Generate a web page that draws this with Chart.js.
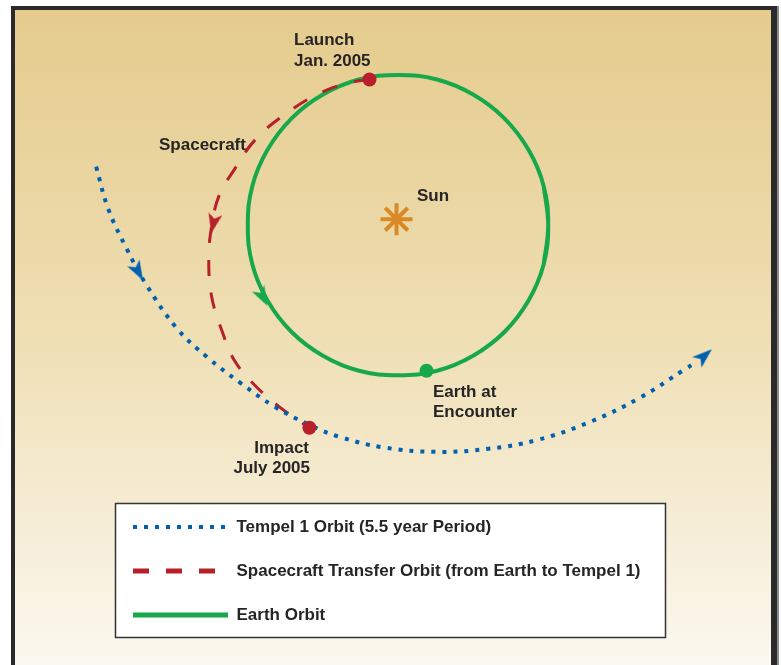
<!DOCTYPE html>
<html>
<head>
<meta charset="utf-8">
<script src="https://cdn.jsdelivr.net/npm/chart.js@4.4.0/dist/chart.umd.min.js"></script>
<style>
    body { margin: 0; background: #fff; }
    canvas { display: block; }
</style>
</head>
<body>
<canvas id="graficoOrbitas" width="781" height="665"></canvas>
<script>
// posições em UA, centradas na órbita da Terra (raio 1)
// a órbita da Terra passa um pouco do ponto inicial para fechar sem quina
const orbitaTerra = [[0.97, -0.26], [1, 0], [0.97, 0.26], [0.87, 0.5], [0.71, 0.71], [0.5, 0.87], [0.26, 0.97], [0, 1],
    [-0.26, 0.97], [-0.5, 0.87], [-0.71, 0.71], [-0.87, 0.5], [-0.97, 0.26], [-1, 0], [-0.97, -0.26],
    [-0.87, -0.5], [-0.71, -0.71], [-0.5, -0.87], [-0.26, -0.97], [0, -1], [0.26, -0.97], [0.5, -0.87],
    [0.71, -0.71], [0.87, -0.5], [0.97, -0.26], [1, 0], [0.97, 0.26]];
const orbitaTempel = [[-2.01, 0.39], [-1.93, 0.11], [-1.81, -0.15], [-1.68, -0.39], [-1.47, -0.69],
    [-1.27, -0.88], [-1.05, -1.05], [-0.82, -1.21], [-0.59, -1.33], [-0.39, -1.41], [-0.1, -1.48],
    [0.25, -1.51], [0.6, -1.49], [0.93, -1.43], [1.28, -1.31], [1.61, -1.15], [1.91, -0.96], [1.99, -0.91]];
const orbitaNave = [[-0.19, 0.97], [-0.32, 0.95], [-0.52, 0.88], [-0.75, 0.74], [-0.95, 0.57], [-1.09, 0.37],
    [-1.19, 0.2], [-1.24, 0], [-1.26, -0.23], [-1.24, -0.48], [-1.17, -0.71], [-1.09, -0.9], [-0.95, -1.07],
    [-0.79, -1.21], [-0.62, -1.33], [-0.59, -1.35]];
const eventosNave = [[-0.19, 0.97], [-0.59, -1.35]];   // lançamento, impacto
const terraEncontro = [[0.19, -0.97]];
const sol = [[-0.01, 0.04]];
const setas = [[-1.73, -0.31], [-1.23, 0.01], [-0.9, -0.48], [2.04, -0.87]];
const rotacaoSetas = [151, 192, 152, 49];
const nomesSeries = ["Tempel 1 Orbit (5.5 year Period)", "Spacecraft Transfer Orbit (from Earth to Tempel 1)", "Earth Orbit"];

const AZUL = "#0061b0";
const VERMELHO = "#b7202b";
const VERDE = "#17a84b";
const LARANJA = "#d98a24";
const TEXTO = "#262425";

function pontos(lista) {
    return lista.map(p => ({ x: p[0], y: p[1] }));
}

function criarSeta(cor) {
    const c = document.createElement("canvas");
    c.width = 14;
    c.height = 20;
    const g = c.getContext("2d");
    g.fillStyle = cor;
    g.beginPath();
    g.moveTo(7, 0);
    g.lineTo(14, 20);
    g.lineTo(7, 15);
    g.lineTo(0, 20);
    g.closePath();
    g.fill();
    return c;
}

const larguraLegenda = [4, 5, 5];

const rotulos = [
    ["Launch", 294, 45, "left"],
    ["Jan. 2005", 294, 66, "left"],
    ["Spacecraft", 159, 150, "left"],
    ["Sun", 417, 201, "left"],
    ["Earth at", 433, 397, "left"],
    ["Encounter", 433, 417, "left"],
    ["Impact", 309, 453, "right"],
    ["July 2005", 310, 473, "right"]
];

const fundo = {
    id: "fundo",
    beforeDraw(chart) {
        const ctx = chart.ctx;
        ctx.save();
        ctx.fillStyle = "#ffffff";
        ctx.fillRect(0, 0, 781, 665);
        ctx.fillStyle = "#8c8c8c";
        ctx.fillRect(11, 6, 768, 665);
        ctx.fillStyle = "#2a2a2a";
        ctx.fillRect(11, 6, 766, 665);
        const grad = ctx.createLinearGradient(0, 10, 0, 665);
        grad.addColorStop(0, "#e5cb8d");
        grad.addColorStop(0.5, "#efdfb4");
        grad.addColorStop(1, "#fbf8f0");
        ctx.fillStyle = grad;
        ctx.fillRect(15, 10, 756, 655);
        // caixa da legenda
        ctx.fillStyle = "#ffffff";
        ctx.fillRect(115.5, 503.5, 550, 134);
        ctx.strokeStyle = "#333333";
        ctx.lineWidth = 1.5;
        ctx.strokeRect(115.5, 503.5, 550, 134);
        ctx.restore();
    },
    afterLayout(chart) {
        const leg = chart.legend;
        leg.left = 106;
        leg.top = 491.5;
        leg.right = 670;
        leg.bottom = 665;
    },
    afterDraw(chart) {
        const ctx = chart.ctx;
        ctx.save();
        ctx.font = "bold 17px 'Liberation Sans', Arial, sans-serif";
        ctx.fillStyle = TEXTO;
        ctx.textBaseline = "alphabetic";
        rotulos.forEach(r => {
            ctx.textAlign = r[3];
            ctx.fillText(r[0], r[1], r[2]);
        });
        ctx.restore();
    }
};

const setaAzul = criarSeta(AZUL);

new Chart(document.getElementById("graficoOrbitas"), {
    type: "scatter",
    data: {
        datasets: [
            {
                label: nomesSeries[0],
                data: pontos(orbitaTempel),
                showLine: true,
                borderColor: AZUL,
                borderWidth: 4,
                borderDash: [4, 7],
                borderCapStyle: "butt",
                tension: 0.4,
                pointRadius: 0,
                order: 10
            },
            {
                label: nomesSeries[1],
                data: pontos(orbitaNave),
                showLine: true,
                borderColor: VERMELHO,
                borderWidth: 3,
                borderDash: [16, 17],
                borderCapStyle: "butt",
                tension: 0.4,
                pointRadius: 0,
                order: 10
            },
            {
                label: nomesSeries[2],
                data: pontos(orbitaTerra),
                showLine: true,
                borderColor: VERDE,
                borderWidth: 4,
                tension: 0.4,
                pointRadius: 0,
                order: 10
            },
            {
                label: "eventos",
                data: pontos(eventosNave),
                pointRadius: 7,
                pointBackgroundColor: VERMELHO,
                pointBorderWidth: 0,
                order: 0
            },
            {
                label: "terra",
                data: pontos(terraEncontro),
                pointRadius: 7,
                pointBackgroundColor: VERDE,
                pointBorderWidth: 0,
                order: 0
            },
            {
                label: "sol",
                data: pontos(sol),
                pointStyle: "star",
                pointRadius: 16,
                pointBorderColor: LARANJA,
                pointBorderWidth: 4,
                order: 0
            },
            {
                label: "setas",
                data: pontos(setas),
                pointStyle: [setaAzul, criarSeta(VERMELHO), criarSeta(VERDE), setaAzul],
                pointRotation: rotacaoSetas,
                pointRadius: 10,
                order: 0
            }
        ]
    },
    options: {
        responsive: false,
        animation: false,
        events: [],
        layout: { padding: 0, autoPadding: false },
        scales: {
            x: { type: "linear", min: -2.65, max: 2.55, display: false },
            y: { type: "linear", min: -2.93, max: 1.5, display: false }
        },
        plugins: {
            tooltip: { enabled: false },
            legend: {
                position: "chartArea",
                align: "start",
                labels: {
                    usePointStyle: true,
                    pointStyle: "line",
                    pointStyleWidth: 95,
                    padding: 27,
                    color: TEXTO,
                    font: { family: "'Liberation Sans', Arial, sans-serif", weight: "bold", size: 17 },
                    generateLabels: (chart) => chart.data.datasets.slice(0, 3).map((ds, i) => ({
                        text: ds.label,
                        strokeStyle: ds.borderColor,
                        fillStyle: ds.borderColor,
                        lineWidth: larguraLegenda[i],
                        lineDash: ds.borderDash || [],
                        lineCap: "butt",
                        pointStyle: "line",
                        fontColor: TEXTO,
                        hidden: false,
                        datasetIndex: i
                    }))
                }
            }
        }
    },
    plugins: [fundo]
});
</script>
</body>
</html>
